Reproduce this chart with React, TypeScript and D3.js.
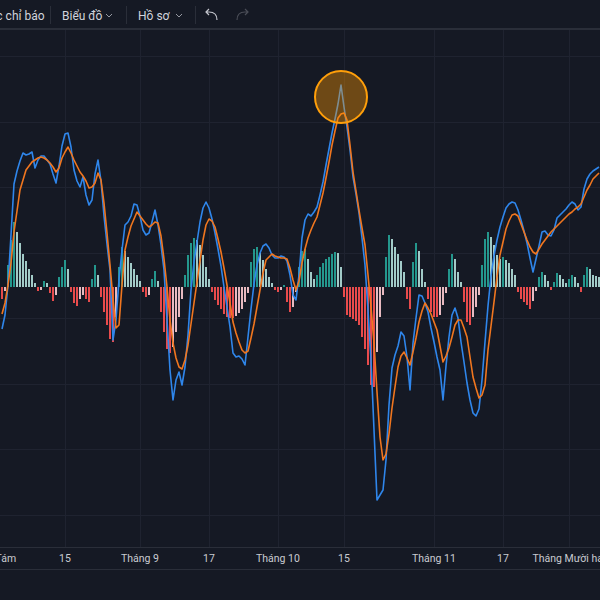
import React from "react";
import * as d3 from "d3";

// MACD line (blue), one value per bar
const macd = [
  -42,-28,2,52,103,116,126,134,132,133,
  135,119,127,131,131,127,123,113,104,121,
  141,153,154,140,117,106,100,110,92,82,
  87,113,127,106,71,43,17,-53,-33,7,
  37,62,65,71,83,82,71,57,52,54,
  65,77,62,42,17,-33,-83,-113,-93,-85,
  -98,-80,-48,-3,25,45,65,79,85,79,
  68,54,38,21,0,-20,-40,-66,-70,-69,
  -72,-78,-50,-22,3,22,34,41,43,39,
  32,29,29,31,30,26,12,-8,-13,12,
  49,67,73,71,75,80,92,105,122,138,
  154,168,183,202,180,160,137,110,93,74,
  49,22,-23,-73,-143,-213,-208,-203,-173,-118,
  -81,-68,-59,-45,-49,-70,-103,-56,-31,-8,
  -9,-16,-25,-41,-55,-70,-83,-113,-79,-50,
  -28,-21,-31,-55,-75,-96,-113,-126,-129,-122,
  -93,-55,-19,11,31,47,60,70,79,83,
  85,84,77,67,56,44,29,15,28,41,
  55,56,52,51,57,69,72,75,78,82,
  85,83,77,80,98,108,113,116,118,120,
];

// Signal line (orange)
const signal = [
  -27,-16,2,24,55,76,97,107,117,121,
  125,127,129,130,129,127,124,120,115,119,
  129,135,140,134,127,121,115,111,106,99,
  100,104,114,107,84,54,22,-12,-41,-38,
  2,37,50,61,68,75,71,67,63,60,
  62,65,64,51,28,0,-33,-56,-71,-80,
  -82,-73,-58,-37,-16,5,26,47,62,68,
  66,60,48,35,19,2,-16,-35,-46,-55,
  -63,-66,-64,-51,-37,-20,-3,14,27,30,
  33,31,30,29,29,28,19,7,-3,6,
  24,38,49,57,64,70,82,94,109,125,
  142,156,169,173,174,167,142,115,96,77,
  59,42,12,-20,-56,-105,-150,-173,-167,-147,
  -121,-100,-80,-69,-65,-71,-78,-65,-51,-35,
  -24,-16,-21,-27,-35,-43,-59,-75,-69,-61,
  -50,-38,-33,-33,-41,-50,-70,-90,-101,-111,
  -108,-98,-63,-39,-15,10,32,45,58,66,
  72,73,71,63,55,47,40,35,33,38,
  43,47,51,55,58,61,64,67,70,73,
  75,78,80,83,90,97,102,108,111,114,
];

// Histogram
const histogram = [
  -12,-4,22,47,65,55,44,33,26,18,
  12,4,-4,-3,6,4,-6,-14,-8,10,
  20,27,18,-5,-16,-19,-12,-8,-12,-15,
  8,22,12,-10,-25,-38,-52,-55,-30,20,
  40,36,30,24,18,12,6,-5,-10,-8,
  8,16,6,-25,-45,-62,-66,-60,-45,-30,
  -12,12,32,44,49,47,42,32,20,8,
  -5,-13,-18,-22,-27,-30,-31,-31,-29,-26,
  -22,-15,-6,25,38,40,34,27,18,10,
  4,-3,-5,-3,2,-15,-25,-20,-5,20,
  36,38,28,15,8,12,20,24,28,30,
  33,35,34,20,-10,-28,-30,-32,-34,-38,
  -50,-62,-78,-98,-100,-65,-30,-8,30,52,
  48,40,33,26,15,-12,-22,25,44,36,
  18,5,-12,-25,-30,-30,-28,-18,-6,18,
  33,28,15,5,-15,-35,-38,-30,-20,-8,
  22,48,55,50,42,32,28,30,27,24,
  18,12,-5,-12,-15,-18,-22,-14,-4,10,
  15,12,6,-3,5,14,12,8,4,8,
  12,10,4,-5,12,20,18,12,11,10,
];

const tickLabels = ["Tháng Tám", "15", "Tháng 9", "17", "Tháng 10", "15", "Tháng 11", "17", "Tháng Mười hai"];
const tickIndex = [-4, 21, 46, 69, 92, 114, 144, 167, 189];
const gridLevels = [231, 165, 100, 34, -31, -97, -162, -228];

const highlightIndex = 113;
const highlightValue = 190;

const toolbarItems = ["Các chỉ báo", "Biểu đồ", "Hồ sơ"];

const W = 600;
const H = 600;
const BG = "#151924";
const GRID = "#1f2330";
const BORDER = "#2a2e39";

export default function App() {
  const n = macd.length;
  const x = d3.scaleLinear().domain([0, n - 1]).range([2, 599]);
  const y = d3.scaleLinear().domain([-258, 255]).range([545, 32]);

  const line = d3
    .line<number>()
    .x((_, i) => x(i))
    .y((v) => y(v));

  const histColor = (i: number) => {
    const v = histogram[i];
    const prev = i > 0 ? histogram[i - 1] : v;
    if (v >= 0) return prev < v ? "#26a69a" : "#b2dfdb";
    return prev < v ? "#ffcdd2" : "#ff5252";
  };

  const y0 = y(0);

  return (
    <div style={{ position: "fixed", left: 0, top: 0, width: W, height: H, background: BG }}>
      <svg width={W} height={H} style={{ display: "block" }} fontFamily="Roboto, 'Noto Sans', sans-serif">
        <rect x={0} y={0} width={W} height={H} fill={BG} />
        {/* toolbar */}
        <rect x={0} y={0} width={W} height={28} fill="#151924" />
        <text x={-18} y={19.5} fill="#d1d4dc" fontSize={12}>{toolbarItems[0]}</text>
        <line x1={50.5} x2={50.5} y1={6} y2={24} stroke={BORDER} />
        <text x={62} y={19.5} fill="#d1d4dc" fontSize={12}>{toolbarItems[1]}</text>
        <path d="M106 14 l3 3 l3 -3" fill="none" stroke="#9598a1" strokeWidth={1} />
        <line x1={126.5} x2={126.5} y1={6} y2={24} stroke={BORDER} />
        <text x={138} y={19.5} fill="#d1d4dc" fontSize={12}>{toolbarItems[2]}</text>
        <path d="M176 14 l3 3 l3 -3" fill="none" stroke="#9598a1" strokeWidth={1} />
        <line x1={195.5} x2={195.5} y1={6} y2={24} stroke={BORDER} />
        <path d="M217 20 C217 14 214 12 209 12 L206 12 M209 9 L206 12 L209 15" fill="none" stroke="#c4c6ce" strokeWidth={1.2} />
        <path d="M237 20 C237 14 240 12 245 12 L248 12 M245 9 L248 12 L245 15" fill="none" stroke="#4a4d57" strokeWidth={1.2} />
        <rect x={0} y={28} width={W} height={2} fill={BORDER} />

        {/* grid */}
        {gridLevels.map((g, i) => (
          <line key={"h" + i} x1={0} x2={W} y1={Math.round(y(g)) + 0.5} y2={Math.round(y(g)) + 0.5} stroke={GRID} />
        ))}
        {tickIndex.map((t, i) => (
          <line key={"v" + i} x1={Math.round(x(t)) + 0.5} x2={Math.round(x(t)) + 0.5} y1={30} y2={547} stroke={GRID} />
        ))}

        {/* histogram */}
        {histogram.map((v, i) => {
          const yy = y(v);
          return (
            <rect
              key={"b" + i}
              x={x(i) - 0.9}
              y={Math.min(yy, y0)}
              width={1.8}
              height={Math.max(0.5, Math.abs(yy - y0))}
              fill={histColor(i)}
            />
          );
        })}

        {/* lines */}
        <path d={line(macd) || ""} fill="none" stroke="#2f86eb" strokeWidth={1.6} strokeLinejoin="round" />
        <path d={line(signal) || ""} fill="none" stroke="#f0761f" strokeWidth={1.6} strokeLinejoin="round" />

        {/* highlight circle */}
        <circle cx={x(highlightIndex)} cy={y(highlightValue)} r={26} fill="rgba(255,152,0,0.38)" stroke="#ff9f0a" strokeWidth={2} />

        {/* time axis */}
        <line x1={0} x2={W} y1={547.5} y2={547.5} stroke={BORDER} />
        <line x1={0} x2={W} y1={569.5} y2={569.5} stroke={BORDER} />
        {tickLabels.map((l, i) => (
          <text key={"t" + i} x={x(tickIndex[i])} y={562} textAnchor="middle" fill="#c9cbd1" fontSize={10.5}>
            {l}
          </text>
        ))}
      </svg>
    </div>
  );
}
